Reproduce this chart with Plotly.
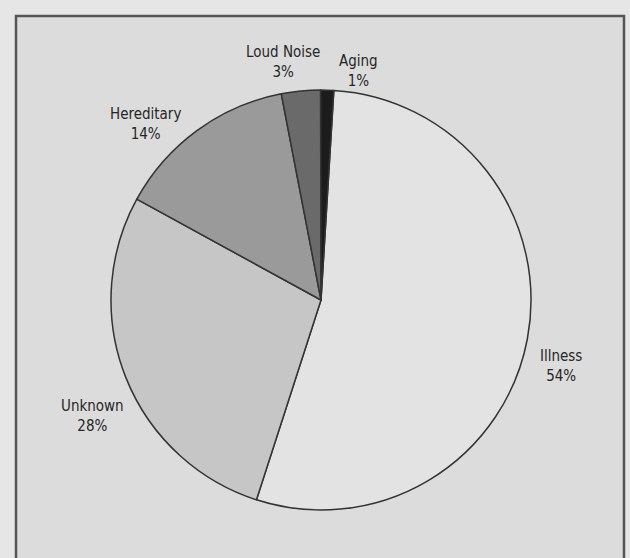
import plotly.graph_objects as go

labels = ["Illness", "Unknown", "Hereditary", "Loud Noise", "Aging"]
values = [54, 28, 14, 3, 1]
colors = ["#e3e3e3", "#c6c6c6", "#9a9a9a", "#6a6a6a", "#1c1c1c"]

W, H = 630, 558
cx, cy, r = 321, 300, 210

fig = go.Figure(go.Pie(
    labels=labels, values=values, sort=False, direction="clockwise",
    rotation=3.5, textinfo="none", hoverinfo="label+percent",
    marker=dict(colors=colors, line=dict(color="#333333", width=1.5)),
    domain=dict(x=[(cx - r) / W, (cx + r) / W], y=[(H - cy - r) / H, (H - cy + r) / H]),
    showlegend=False,
))

label_pos = {
    "Illness": (561, 366),
    "Unknown": (92, 416),
    "Hereditary": (145, 124),
    "Loud Noise": (283, 62),
    "Aging": (358, 71),
}
for lab, v in zip(labels, values):
    x, y = label_pos[lab]
    fig.add_annotation(x=x / W, y=1 - y / H, xref="paper", yref="paper",
                       xanchor="center", yanchor="middle",
                       text=f"{lab}<br>{v}%", showarrow=False,
                       font=dict(family="DejaVu Sans Condensed, Liberation Sans Narrow, Arial",
                                 size=15, color="#262626"),
                       align="center")

fig.add_shape(type="rect", xref="paper", yref="paper", layer="below",
              x0=16 / W, x1=624 / W, y0=-0.01, y1=1 - 16 / H,
              fillcolor="#dcdcdc", line=dict(color="#555555", width=2.5))

fig.update_layout(width=W, height=H, margin=dict(l=0, r=0, t=0, b=0),
                  paper_bgcolor="#e6e6e6", plot_bgcolor="#e6e6e6")
fig.write_html("out.html", config={"displayModeBar": False},
               post_script="document.body.style.margin='0';")
